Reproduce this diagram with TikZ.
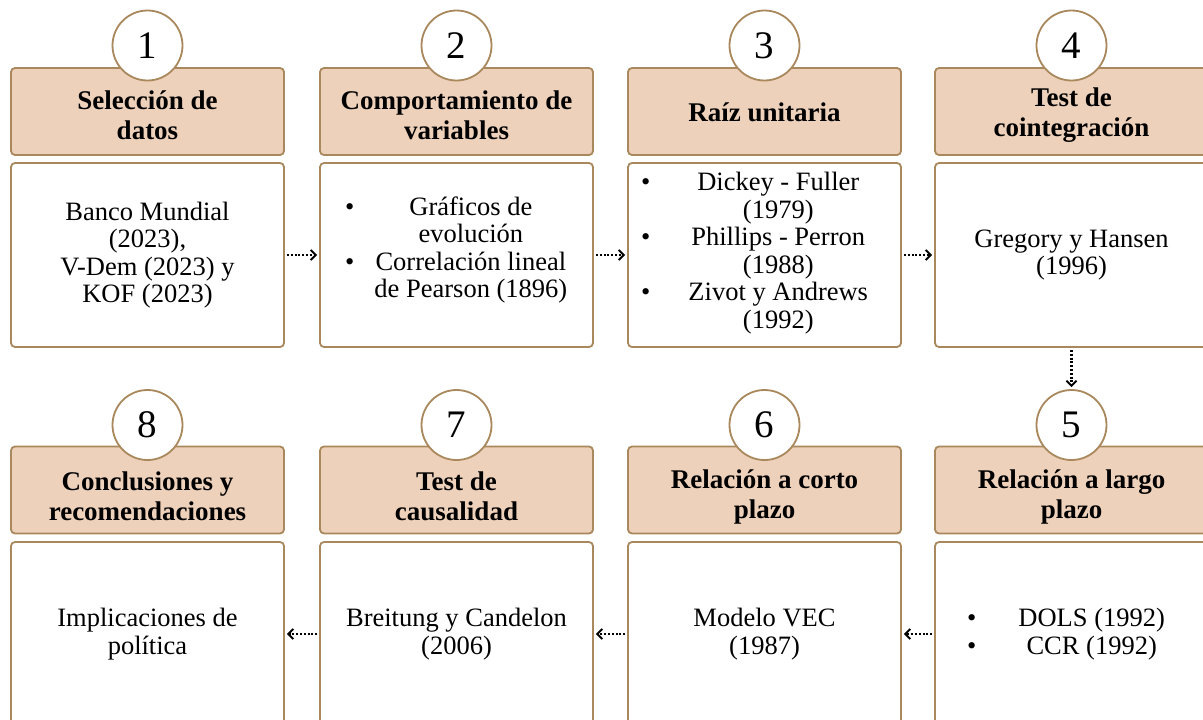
\documentclass[tikz,border=0pt]{standalone}
\usepackage{fontspec}
\setmainfont{Liberation Serif}
\usetikzlibrary{arrows.meta}
\definecolor{hdrfill}{RGB}{238,209,186}
\definecolor{brd}{RGB}{168,136,92}
\begin{document}
\begin{tikzpicture}[x=1pt,y=-1pt,
 hdr/.style={draw=brd,fill=hdrfill,line width=1.8pt,rounded corners=4pt,minimum width=273pt,minimum height=87pt,inner sep=0pt},
 hdrtext/.style={inner sep=0pt,align=center,font=\fontsize{27}{30}\selectfont\bfseries},
 bodybox/.style={draw=brd,fill=white,line width=1.8pt,rounded corners=4pt,minimum width=273pt,minimum height=184pt,inner sep=0pt,align=center,font=\fontsize{26.5}{27.5}\selectfont},
 num/.style={circle,draw=brd,fill=white,line width=1.8pt,minimum size=70pt,inner sep=0pt,font=\fontsize{39}{39}\selectfont},
 lst/.style={inner sep=0pt,anchor=west,font=\fontsize{26.5}{27.5}\selectfont},
 flow/.style={line width=2.6pt,dash pattern=on 2pt off 1.8pt,-{Straight Barb[length=5pt,width=10pt,line width=2pt]},shorten >=2pt,shorten <=2pt}
]
\useasboundingbox (0,0) rectangle (1203,720);
\clip (0,0) rectangle (1203,720);
% row 1 headers
\node[hdr] (h1) at (147.5,111.5) {};
\node[hdr] (h2) at (456.5,111.5) {};
\node[hdr] (h3) at (764.5,111.5) {};
\node[hdr] (h4) at (1071.5,111.5) {};
% row 2 headers
\node[hdr] (h8) at (147.5,490) {};
\node[hdr] (h7) at (456.5,490) {};
\node[hdr] (h6) at (764.5,490) {};
\node[hdr] (h5) at (1071.5,490) {};
% header texts
\node[hdrtext] (t1) at ([yshift=-4pt]h1.center) {Selección de\\datos};
\node[hdrtext] (t2) at ([yshift=-4pt]h2.center) {Comportamiento de\\variables};
\node[hdrtext] (t3) at ([yshift=-1pt]h3.center) {Raíz unitaria};
\node[hdrtext] (t4) at ([yshift=-4pt]h4.center) {Test de\\cointegración};
\node[hdrtext] (t8) at ([yshift=-6.5pt]h8.center) {Conclusiones y\\recomendaciones};
\node[hdrtext] (t7) at ([yshift=-6.5pt]h7.center) {Test de\\causalidad};
\node[hdrtext] (t6) at ([yshift=-6.5pt]h6.center) {Relación a corto\\plazo};
\node[hdrtext] (t5) at ([yshift=-6.5pt]h5.center) {Relación a largo\\plazo};
% circles
\node[num] (c1) at (147.5,45.5) {1};
\node[num] (c2) at (456.5,45.5) {2};
\node[num] (c3) at (764.5,45.5) {3};
\node[num] (c4) at (1071.5,45.5) {4};
\node[num] (c8) at (147.5,425) {8};
\node[num] (c7) at (456.5,425) {7};
\node[num] (c6) at (764.5,425) {6};
\node[num] (c5) at (1071.5,425) {5};
% row 1 bodies
\node[bodybox] (b1) at (147.5,255) {Banco Mundial\\(2023),\\V-Dem (2023) y\\KOF (2023)};
\node[bodybox] (b2) at (456.5,255) {};
\node[bodybox] (b3) at (764.5,255) {};
\node[bodybox] (b4) at (1071.5,255) {Gregory y Hansen\\(1996)};
% row 2 bodies
\node[bodybox] (b8) at (147.5,634) {Implicaciones de\\política};
\node[bodybox] (b7) at (456.5,634) {Breitung y Candelon\\(2006)};
\node[bodybox] (b6) at (764.5,634) {Modelo VEC\\(1987)};
\node[bodybox] (b5) at (1071.5,634) {};
% lists
\node[lst] (l2) at (345,251) {\begin{tabular}{@{}c@{\hspace{20pt}}c@{}}\textbullet & Gráficos de\\ & evolución\\ \textbullet & Correlación lineal\\ & de Pearson (1896)\end{tabular}};
\node[lst] (l3) at (641,254) {\begin{tabular}{@{}c@{\hspace{38pt}}c@{}}\textbullet & Dickey - Fuller\\ & (1979)\\ \textbullet & Phillips - Perron\\ & (1988)\\ \textbullet & Zivot y Andrews\\ & (1992)\end{tabular}};
\node[lst] (l5) at (967,635) {\begin{tabular}{@{}c@{\hspace{42pt}}c@{}}\textbullet & DOLS (1992)\\ \textbullet & CCR (1992)\end{tabular}};
% connectors
\draw[flow] (b1.east) -- (b2.west);
\draw[flow] (b2.east) -- (b3.west);
\draw[flow] (b3.east) -- (b4.west);
\draw[flow] (b4.south) -- (c5.north);
\draw[flow] (b5.west) -- (b6.east);
\draw[flow] (b6.west) -- (b7.east);
\draw[flow] (b7.west) -- (b8.east);
\end{tikzpicture}
\end{document}
